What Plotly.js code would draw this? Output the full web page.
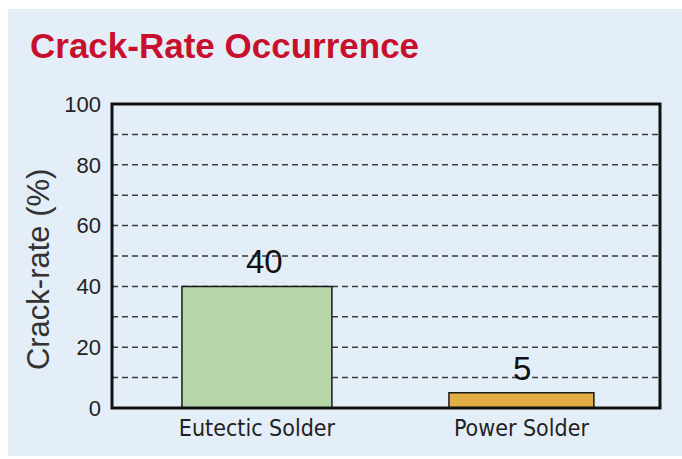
<!DOCTYPE html>
<html>
<head>
<meta charset="utf-8">
<script src="https://cdn.plot.ly/plotly-3.0.1.min.js"></script>
<style>html,body{margin:0;padding:0;background:#fff;}#chart{width:682px;height:459px;}</style>
</head>
<body>
<div id="chart"></div>
<script>
const categories = ["Eutectic Solder", "Power Solder"];
const crackRate = [40, 5];
const valueLabels = ["40", "5"];
const barColors = ["#b5d6a8", "#e3ad45"];
const yTickVals = [0, 20, 40, 60, 80, 100];
const gridVals = [10, 20, 30, 40, 50, 60, 70, 80, 90];
const yAxisTitle = "Crack-rate (%)";

const trace = {
  type: "bar",
  x: [0, 1],
  y: crackRate,
  width: [0.567, 0.548],
  marker: {color: barColors, line: {color: "#1a1a1a", width: 1.5}},
  hoverinfo: "none"
};

const shapes = [
  {type: "rect", xref: "paper", yref: "paper", x0: -0.19, x1: 1.1, y0: -0.158, y1: 1.3125,
   fillcolor: "#e4eef9", line: {width: 0}, layer: "below"}
];
gridVals.forEach(v => shapes.push({
  type: "line", xref: "paper", yref: "y", x0: 0, x1: 1, y0: v, y1: v,
  line: {color: "#3a3a3a", width: 1.5, dash: "6px,4px"}, layer: "below"
}));
shapes.push({type: "rect", xref: "paper", yref: "paper", x0: 0, x1: 1, y0: 0, y1: 1,
  line: {color: "#111", width: 3}, fillcolor: "rgba(0,0,0,0)", layer: "above"});

const labelShift = [8, 1];
const annotations = crackRate.map((v, i) => ({
  x: i, y: v, xref: "x", yref: "y", text: valueLabels[i], showarrow: false,
  yanchor: "bottom", xanchor: "center", yshift: 4, xshift: labelShift[i],
  font: {family: "Liberation Sans, Arial, sans-serif", size: 33, color: "#111"}
}));
annotations.push({
  x: -0.135, y: 0.457, xref: "paper", yref: "paper", text: yAxisTitle, showarrow: false,
  textangle: -90, xanchor: "center", yanchor: "middle",
  font: {family: "Liberation Sans, Arial, sans-serif", size: 31, color: "#333"}
});

const layout = {
  width: 682, height: 459,
  margin: {l: 112, r: 22, t: 104, b: 51},
  paper_bgcolor: "#ffffff",
  plot_bgcolor: "#fdf8d6",
  showlegend: false,
  title: {text: "Crack-Rate Occurrence", x: 0.044, xanchor: "left", y: 0.9, yanchor: "middle",
    font: {family: "Liberation Sans, Arial, sans-serif", size: 35, color: "#c8102e", weight: "bold"}},
  xaxis: {range: [-0.548, 1.524], tickvals: [0, 1], ticktext: categories,
    showgrid: false, zeroline: false, ticks: "", showline: false, ticklabelstandoff: 4,
    tickfont: {family: "Liberation Sans Narrow, DejaVu Sans Condensed, sans-serif", size: 23, color: "#222"}},
  yaxis: {range: [0, 100], tickvals: yTickVals, showgrid: false, zeroline: false, ticks: "",
    ticklabelstandoff: 10,
    tickfont: {family: "Liberation Sans, Arial, sans-serif", size: 22, color: "#222"}},
  shapes: shapes,
  annotations: annotations
};

Plotly.newPlot("chart", [trace], layout, {displayModeBar: false, staticPlot: true});
</script>
</body>
</html>
